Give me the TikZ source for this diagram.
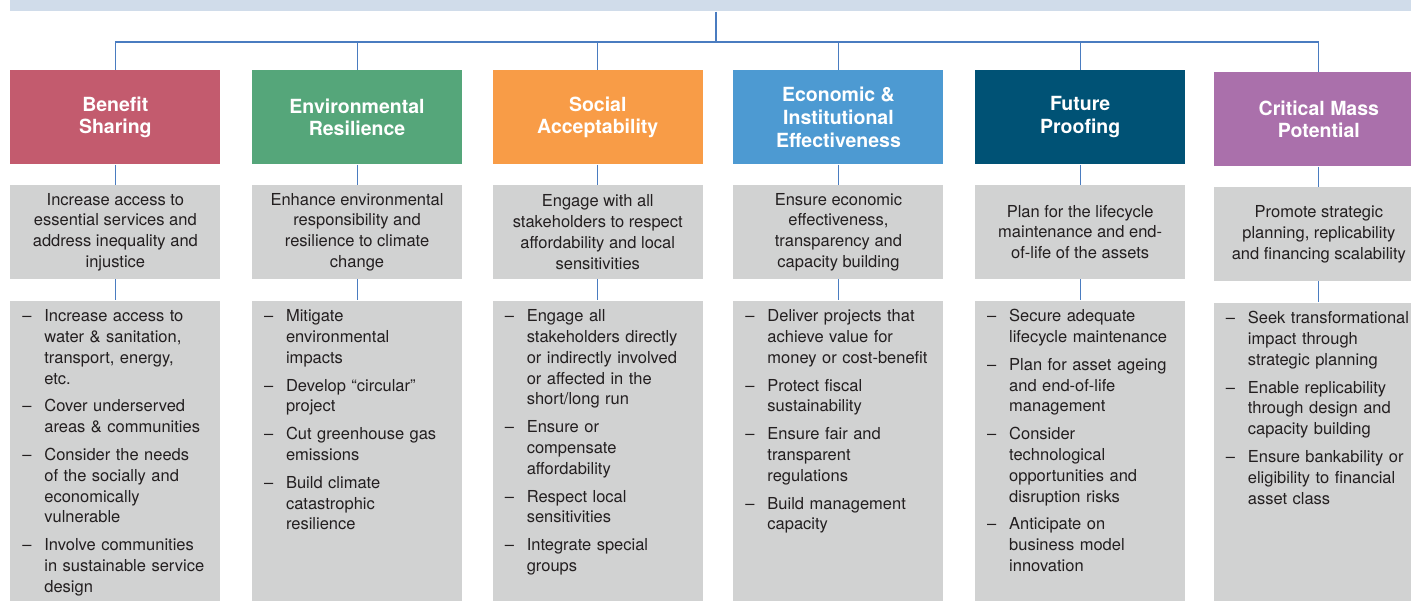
\documentclass[tikz,border=0pt]{standalone}
\usepackage{fontspec}
\setmainfont{TeX Gyre Heros}
\usepackage{tikz}
\usetikzlibrary{positioning}
\usepackage{xcolor}
\definecolor{rose}{RGB}{195, 91, 110}
\definecolor{leaf}{RGB}{85, 166, 122}
\definecolor{amber}{RGB}{248, 156, 71}
\definecolor{sky}{RGB}{77, 154, 210}
\definecolor{navy}{RGB}{0, 82, 117}
\definecolor{plum}{RGB}{170, 112, 171}
\definecolor{panelgray}{RGB}{209, 210, 210}
\definecolor{mist}{RGB}{208, 220, 234}
\definecolor{wire}{RGB}{74, 124, 192}
\definecolor{ink}{RGB}{35, 31, 32}

\newcommand{\headfont}{\fontsize{0.39cm}{0.454cm}\selectfont\bfseries}
\newcommand{\bodyfont}{\fontsize{0.33cm}{0.416cm}\selectfont}

\begin{document}
\begin{tikzpicture}[
      head/.style={rectangle, minimum width=4.2cm, minimum height=1.88cm,
                   inner sep=0pt, align=center, text=white, font=\headfont},
      goal/.style={rectangle, fill=panelgray, minimum width=4.2cm,
                   minimum height=1.88cm, inner sep=0pt, align=center,
                   text=ink, font=\bodyfont},
      acts/.style={rectangle, fill=panelgray, text width=3.72cm,
                   inner xsep=0.24cm, inner ysep=0.16cm, text height=0.26cm,
                   text depth=5.42cm, align=left, text=ink, font=\bodyfont},
      link/.style={draw=wire, line width=0.6pt},
      trunk/.style={draw=wire, line width=1pt}
    ]
    \useasboundingbox (0,0) rectangle (28.22,-12);

    % banner along the top
    \node[rectangle, fill=mist, minimum width=28.24cm, minimum height=0.22cm,
          inner sep=0pt, anchor=north west] (topbar) at (0.2,0) {};
    \coordinate (hub) at (14.32,-0.84);

    % pillar headers
    \node[head, fill=rose, anchor=north west] (head1) at (0.2,-1.4)
          {Benefit\\Sharing};
    \node[head, fill=leaf, right=0.62cm of head1] (head2)
          {Environmental\\Resilience};
    \node[head, fill=amber, right=0.6cm of head2] (head3)
          {Social\\Acceptability};
    \node[head, fill=sky, right=0.6cm of head3] (head4)
          {Economic \&\\Institutional\\Effectiveness};
    \node[head, fill=navy, right=0.62cm of head4] (head5)
          {Future\\Proofing};
    \node[head, fill=plum, right=0.56cm of head5, yshift=-0.04cm] (head6)
          {Critical Mass\\Potential};

    % objectives
    \node[goal, below=0.4cm of head1] (goal1)
          {Increase access to\\essential services and\\address inequality and\\injustice};
    \node[goal, below=0.4cm of head2] (goal2)
          {Enhance environmental\\responsibility and\\resilience to climate\\change};
    \node[goal, below=0.4cm of head3] (goal3)
          {Engage with all\\stakeholders to respect\\affordability and local\\sensitivities};
    \node[goal, below=0.4cm of head4] (goal4)
          {Ensure economic\\effectiveness,\\transparency and\\capacity building};
    \node[goal, below=0.4cm of head5] (goal5)
          {Plan for the lifecycle\\maintenance and end-\\of-life of the assets};
    \node[goal, below=0.4cm of head6] (goal6)
          {Promote strategic\\planning, replicability\\and financing scalability};

    % actions
    \node[acts, below=0.42cm of goal1] (act1) {%
      \begin{tabular}[t]{@{}p{0.44cm}@{}l@{}}
        -- & Increase access to\\ & water \& sanitation,\\ & transport, energy,\\ & etc.\\[0.14cm]
        -- & Cover underserved\\ & areas \& communities\\[0.14cm]
        -- & Consider the needs\\ & of the socially and\\ & economically\\ & vulnerable\\[0.14cm]
        -- & Involve communities\\ & in sustainable service\\ & design
      \end{tabular}};
    \node[acts, below=0.42cm of goal2] (act2) {%
      \begin{tabular}[t]{@{}p{0.44cm}@{}l@{}}
        -- & Mitigate\\ & environmental\\ & impacts\\[0.14cm]
        -- & Develop “circular”\\ & project\\[0.14cm]
        -- & Cut greenhouse gas\\ & emissions\\[0.14cm]
        -- & Build climate\\ & catastrophic\\ & resilience
      \end{tabular}};
    \node[acts, below=0.42cm of goal3] (act3) {%
      \begin{tabular}[t]{@{}p{0.44cm}@{}l@{}}
        -- & Engage all\\ & stakeholders directly\\ & or indirectly involved\\ & or affected in the\\ & short/long run\\[0.14cm]
        -- & Ensure or\\ & compensate\\ & affordability\\[0.14cm]
        -- & Respect local\\ & sensitivities\\[0.14cm]
        -- & Integrate special\\ & groups
      \end{tabular}};
    \node[acts, below=0.42cm of goal4] (act4) {%
      \begin{tabular}[t]{@{}p{0.44cm}@{}l@{}}
        -- & Deliver projects that\\ & achieve value for\\ & money or cost-benefit\\[0.14cm]
        -- & Protect fiscal\\ & sustainability\\[0.14cm]
        -- & Ensure fair and\\ & transparent\\ & regulations\\[0.14cm]
        -- & Build management\\ & capacity
      \end{tabular}};
    \node[acts, below=0.42cm of goal5] (act5) {%
      \begin{tabular}[t]{@{}p{0.44cm}@{}l@{}}
        -- & Secure adequate\\ & lifecycle maintenance\\[0.14cm]
        -- & Plan for asset ageing\\ & and end-of-life\\ & management\\[0.14cm]
        -- & Consider\\ & technological\\ & opportunities and\\ & disruption risks\\[0.14cm]
        -- & Anticipate on\\ & business model\\ & innovation
      \end{tabular}};
    \node[acts, below=0.42cm of goal6] (act6) {%
      \begin{tabular}[t]{@{}p{0.44cm}@{}l@{}}
        -- & Seek transformational\\ & impact through\\ & strategic planning\\[0.14cm]
        -- & Enable replicability\\ & through design and\\ & capacity building\\[0.14cm]
        -- & Ensure bankability or\\ & eligibility to financial\\ & asset class
      \end{tabular}};

    % tree lines
    \draw[trunk] (topbar.south -| hub) -- (hub);
    \draw[link] (hub -| head1) -- (hub -| head6);
    \draw[link] (hub -| head1) -- (head1);
    \draw[link] (hub -| head2) -- (head2);
    \draw[link] (hub -| head3) -- (head3);
    \draw[link] (hub -| head4) -- (head4);
    \draw[link] (hub -| head5) -- (head5);
    \draw[link] (hub -| head6) -- (head6);
    \draw[link] (head1) -- (goal1) (goal1) -- (act1);
    \draw[link] (head2) -- (goal2) (goal2) -- (act2);
    \draw[link] (head3) -- (goal3) (goal3) -- (act3);
    \draw[link] (head4) -- (goal4) (goal4) -- (act4);
    \draw[link] (head5) -- (goal5) (goal5) -- (act5);
    \draw[link] (head6) -- (goal6) (goal6) -- (act6);
  \end{tikzpicture}
\end{document}
